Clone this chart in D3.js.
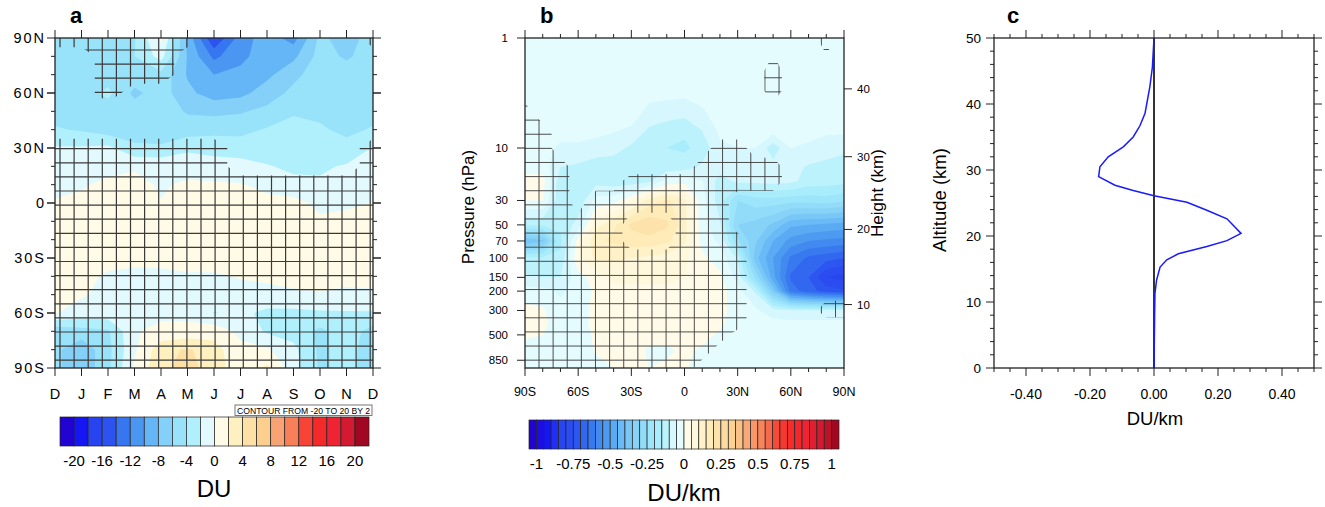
<!DOCTYPE html>
<html>
<head>
<meta charset="utf-8">
<script src="https://cdn.jsdelivr.net/npm/d3@7"></script>
<style>
  body { margin: 0; background: #fff; }
  svg { font-family: "Liberation Sans", Arial, sans-serif; }
</style>
</head>
<body>
<svg id="fig" width="1325" height="507"></svg>
<script>
// ---------- panel a : zonal mean column ozone change (month x latitude) ----------
const months = ['D', 'J', 'F', 'M', 'A', 'M', 'J', 'J', 'A', 'S', 'O', 'N', 'D']
const latsA = [90, 80, 70, 60, 50, 40, 30, 20, 10, 0, -10, -20, -30, -40, -50, -60, -70, -80, -90]
const latTicksA = [90, 60, 30, 0, -30, -60, -90]
const latLabelsA = ['90N', '60N', '30N', '0', '30S', '60S', '90S']
// rows = latsA, columns = months
const ozoneA = [
  [-5, -5, -5, -4.2, 0.5, -8.5, -16, -11, -9, -10.8, -5.5, -7, -5],
  [-5, -5, -5, -4, -1.2, -8.2, -12.5, -10.5, -9, -8.5, -5.2, -6.3, -5],
  [-5, -5, -5, -4.8, -4.6, -8.2, -10, -9.5, -8.5, -6.5, -5, -5, -5],
  [-5, -5, -3.5, -6.5, -5, -7.5, -9, -8.6, -7, -5.5, -5, -5, -5],
  [-4.8, -5, -5, -5, -5, -6.2, -6.5, -6.2, -5.5, -4.2, -4.5, -5, -4.7],
  [-3.8, -4.2, -5, -5, -4.8, -5, -4.6, -4.6, -3.8, -3.4, -3.7, -4.5, -3.8],
  [-1.8, -1.8, -1.5, -3.6, -3.8, -2.4, -2.8, -3, -2.8, -2.8, -2.8, -3.3, -1.9],
  [-1, -0.8, -0.6, -0.2, -0.3, -0.8, -1, -1.2, -1.9, -2.3, -2.3, -1.8, -1],
  [-0.4, -0.2, 0.4, 0.5, -0.2, 0.3, 0.2, 0.1, -0.4, -1.6, -1.7, -0.9, -0.4],
  [0.1, 0.5, 0.8, 0.8, 0.05, 0.8, 0.8, 0.6, 0.4, 0.8, -0.6, -0.3, 0.05],
  [0.5, 0.8, 0.9, 1, 0.8, 1, 1, 0.8, 0.8, 0.8, 0.4, 0.5, 0.5],
  [0.6, 0.8, 0.8, 1, 1, 1, 1, 0.8, 0.8, 0.8, 0.8, 0.7, 0.6],
  [0.6, 0.7, 0.5, 0.4, 0.5, 0.7, 0.7, 0.6, 0.6, 0.6, 0.8, 0.7, 0.6],
  [0.5, 0.4, -0.2, -0.4, -0.4, -0.2, -0.2, 0.1, 0.3, 0.6, 1, 0.4, 0.4],
  [0.3, 0.2, -0.5, -0.6, -0.6, -0.5, -0.6, -0.5, -0.5, -0.3, -0.2, -0.3, -0.2],
  [0.1, -0.8, -0.8, -0.6, -0.5, -0.5, -2.1, -1.5, -2.5, -2.5, -2.3, -2.2, -2.2],
  [-5.5, -4.8, -4.3, -0.2, 0.6, 0.6, 1.2, -0.5, -2.3, -2.8, -4.5, -3, -4.8],
  [-5.5, -7.5, -4.6, -0.3, 3.2, 4.3, 2.8, 0.5, 0.3, -1.5, -4.4, -3.3, -5],
  [-5.5, -7.5, -4.5, 0.3, 3.5, 4.8, 3, 0.8, 2.4, -1.2, -4.3, -3.5, -5]
]
// 1 = significant (hatched)
const sigA = [
  [1, 1, 1, 1, 1, 1, 0, 0, 0, 0, 0, 0, 1],
  [0, 0, 1, 1, 1, 0, 0, 0, 0, 0, 0, 0, 0],
  [0, 0, 1, 1, 1, 0, 0, 0, 0, 0, 0, 0, 0],
  [0, 0, 1, 0, 0, 0, 0, 0, 0, 0, 0, 0, 0],
  [0, 0, 0, 0, 0, 0, 0, 0, 0, 0, 0, 0, 0],
  [0, 0, 0, 0, 0, 0, 0, 0, 0, 0, 0, 0, 0],
  [1, 1, 1, 1, 1, 1, 1, 0, 0, 0, 0, 0, 1],
  [1, 1, 1, 1, 1, 1, 1, 0, 0, 0, 0, 0, 1],
  [1, 1, 1, 1, 1, 1, 1, 1, 1, 1, 1, 1, 1],
  [1, 1, 1, 1, 1, 1, 1, 1, 1, 1, 1, 1, 1],
  [1, 1, 1, 1, 1, 1, 1, 1, 1, 1, 1, 1, 1],
  [1, 1, 1, 1, 1, 1, 1, 1, 1, 1, 1, 1, 1],
  [1, 1, 1, 1, 1, 1, 1, 1, 1, 1, 1, 1, 1],
  [1, 1, 1, 1, 1, 1, 1, 1, 1, 1, 1, 1, 1],
  [1, 1, 1, 1, 1, 1, 1, 1, 1, 1, 1, 1, 1],
  [1, 1, 1, 1, 1, 1, 1, 1, 1, 1, 1, 1, 1],
  [1, 1, 1, 1, 1, 1, 1, 1, 1, 1, 1, 1, 1],
  [1, 1, 1, 1, 1, 1, 1, 1, 1, 1, 1, 1, 1],
  [1, 1, 1, 1, 1, 1, 1, 1, 1, 1, 1, 1, 1]
]
const levelsA = [-20, -18, -16, -14, -12, -10, -8, -6, -4, -2, 0, 2, 4, 6, 8, 10, 12, 14, 16, 18, 20]
const barLabelsA = [-20, -16, -12, -8, -4, 0, 4, 8, 12, 16, 20]
const boxColorsA = ['#2204d2', '#1616f2', '#2844f0', '#2c52f0', '#3676f0', '#4a96f0', '#64b6f6', '#84d0f8',
  '#98e2fa', '#b0f0fc', '#e2fafe', '#fffbe6', '#fff0c0', '#fde0a6', '#fccf8e', '#f9a274', '#f88058',
  '#f64436', '#f42a2a', '#ee2434', '#d41a30', '#a00822']

// ---------- panel b : zonal mean ozone change (latitude x pressure) ----------
const latsB = [-90, -80, -70, -60, -50, -40, -30, -20, -10, 0, 10, 20, 30, 40, 50, 60, 70, 80, 90]
const presB = [1, 2, 3, 5, 7, 10, 15, 20, 30, 50, 70, 100, 150, 200, 300, 400, 500, 700, 1000]
// rows = presB, columns = latsB
const ozoneB = [
  [-.03, -.03, -.03, -.03, -.03, -.03, -.03, -.03, -.03, -.03, -.03, -.03, -.03, -.03, -.03, -.03, -.03, -.03, -.03],
  [-.03, -.03, -.03, -.03, -.03, -.03, -.03, -.03, -.03, -.03, -.03, -.03, -.03, -.03, -.03, -.03, -.03, -.03, -.03],
  [-.03, -.03, -.03, -.03, -.03, -.03, -.03, -.03, -.03, -.03, -.03, -.03, -.03, -.03, -.03, -.03, -.03, -.03, -.03],
  [-.03, -.03, -.03, -.03, -.03, -.03, -.03, -.07, -.08, -.09, -.06, -.03, -.03, -.03, -.03, -.03, -.03, -.03, -.03],
  [-.03, -.03, -.03, -.03, -.03, -.047, -.06, -.11, -.13, -.14, -.1, -.04, -.03, -.03, -.03, -.03, -.03, -.04, -.04],
  [-.03, -.03, -.06, -.06, -.08, -.08, -.11, -.14, -.15, -.16, -.13, -.06, -.05, -.05, -.13, -.05, -.06, -.08, -.09],
  [-.02, -.02, -.1, -.11, -.12, -.13, -.14, -.14, -.13, -.12, -.09, -.08, -.067, -.067, -.08, -.08, -.107, -.113, -.12],
  [.02, .02, -.13, -.14, -.12, -.13, -.13, -.11, -.03, -.02, -.047, -.12, -.087, -.087, -.08, -.087, -.12, -.127, -.133],
  [0, 0, -.14, -.14, -.03, -.02, .04, .12, .16, .11, -.03, -.127, -.25, -.22, -.22, -.23, -.23, -.22, -.24],
  [-.14, -.14, -.14, -.08, .08, .14, .21, .24, .21, .12, -.03, -.093, -.3, -.32, -.36, -.44, -.45, -.46, -.47],
  [-.4, -.36, -.16, .02, .14, .16, .18, .18, .16, .11, -.02, -.06, -.24, -.34, -.45, -.52, -.55, -.56, -.57],
  [-.14, -.14, -.14, .04, .11, .11, .1, .09, .08, .06, .01, -.02, -.107, -.38, -.5, -.61, -.66, -.68, -.7],
  [-.09, -.1, -.1, -.02, .02, .06, .06, .06, .06, .05, .02, .01, -.067, -.26, -.48, -.66, -.7, -.8, -.82],
  [-.03, -.03, -.06, -.03, .01, .04, .04, .04, .04, .04, .03, .02, -.03, -.107, -.36, -.62, -.68, -.72, -.74],
  [.02, .006, -.03, -.03, .02, .03, .04, .04, .04, .04, .03, .02, -.03, -.04, -.08, -.095, -.095, -.095, -.095],
  [.03, .012, -.03, -.03, .02, .03, .04, .04, .04, .04, .03, .01, -.03, -.03, -.03, -.03, -.03, -.03, -.03],
  [.01, 0, -.03, -.03, .01, .03, .04, .02, .02, .03, .02, -.01, -.03, -.03, -.03, -.03, -.03, -.03, -.03],
  [-.03, -.03, -.03, -.03, .005, .02, .03, -.01, -.01, .01, -.01, -.03, -.03, -.03, -.03, -.03, -.03, -.03, -.03],
  [-.03, -.03, -.03, -.03, -.02, 0, .01, 0, .01, .006, -.02, -.03, -.03, -.03, -.03, -.03, -.03, -.03, -.03]
]
const sigB = [
  [0, 0, 0, 0, 0, 0, 0, 0, 0, 0, 0, 0, 0, 0, 0, 0, 0, 1, 0],
  [0, 0, 0, 0, 0, 0, 0, 0, 0, 0, 0, 0, 0, 0, 1, 0, 0, 0, 0],
  [0, 0, 0, 0, 0, 0, 0, 0, 0, 0, 0, 0, 0, 0, 1, 0, 0, 0, 0],
  [1, 0, 0, 0, 0, 0, 0, 0, 0, 0, 0, 0, 0, 0, 0, 0, 0, 0, 0],
  [1, 1, 0, 0, 0, 0, 0, 0, 0, 0, 0, 0, 0, 0, 0, 0, 0, 0, 0],
  [1, 1, 0, 0, 0, 0, 0, 0, 0, 0, 0, 1, 1, 0, 0, 0, 0, 0, 0],
  [1, 1, 1, 0, 0, 0, 0, 0, 0, 0, 1, 1, 1, 1, 1, 0, 0, 0, 0],
  [1, 1, 1, 0, 0, 0, 1, 1, 1, 1, 1, 1, 1, 1, 1, 0, 0, 0, 0],
  [1, 1, 1, 0, 1, 1, 1, 1, 1, 1, 1, 1, 0, 0, 0, 0, 0, 0, 0],
  [1, 1, 1, 1, 1, 1, 0, 0, 0, 1, 1, 1, 0, 0, 0, 0, 0, 0, 0],
  [1, 1, 1, 1, 1, 1, 0, 0, 0, 1, 1, 1, 1, 0, 0, 0, 0, 0, 0],
  [1, 1, 1, 1, 1, 1, 1, 1, 1, 1, 1, 1, 1, 0, 0, 0, 0, 0, 0],
  [1, 1, 1, 1, 1, 1, 1, 1, 1, 1, 1, 1, 1, 0, 0, 0, 0, 0, 0],
  [1, 1, 1, 1, 1, 1, 1, 1, 1, 1, 1, 1, 1, 0, 0, 0, 0, 0, 0],
  [1, 1, 1, 1, 1, 1, 1, 1, 1, 1, 1, 1, 1, 0, 0, 0, 0, 1, 1],
  [1, 1, 1, 1, 1, 1, 1, 1, 1, 1, 1, 1, 1, 0, 0, 0, 0, 0, 0],
  [1, 1, 1, 1, 1, 1, 1, 1, 1, 1, 1, 1, 0, 0, 0, 0, 0, 0, 0],
  [1, 1, 1, 1, 1, 1, 1, 1, 1, 1, 1, 0, 0, 0, 0, 0, 0, 0, 0],
  [1, 1, 1, 1, 1, 1, 1, 1, 1, 1, 0, 0, 0, 0, 0, 0, 0, 0, 0]
]
const levelsB = d3.range(41).map(i => Math.round((-1 + i * 0.05) * 100) / 100)
const barLabelsB = [-1, -0.75, -0.5, -0.25, 0, 0.25, 0.5, 0.75, 1]
const presTicks = [1, 10, 30, 50, 70, 100, 150, 200, 300, 500, 850]
const heightTicks = [10, 20, 30, 40]
const heightTickPres = [265, 55, 12, 2.9]
const latTicksB = [-90, -60, -30, 0, 30, 60, 90]
const latLabelsB = ['90S', '60S', '30S', '0', '30N', '60N', '90N']

// ---------- panel c : global mean profile ----------
const altC = [0, 4, 8.3, 11.3, 13.3, 15.3, 16.4, 17.3, 18.4, 19.3, 20.4, 22.6, 23.9, 25.1, 26.1, 26.9, 27.7, 29, 30.5, 32, 33.5, 35, 36.7, 38.6, 42.6, 45.6, 50]
const duC = [0, 0.001, 0.002, 0.003, 0.008, 0.019, 0.04, 0.076, 0.165, 0.228, 0.272, 0.228, 0.165, 0.103, 0, -0.065, -0.122, -0.173, -0.169, -0.143, -0.096, -0.065, -0.044, -0.028, -0.013, -0.005, 0]
const xTicksC = [-0.4, -0.2, 0, 0.2, 0.4]
const yTicksC = [0, 10, 20, 30, 40, 50]

// -------------------------------------------------------------------------
const svg = d3.select('#fig')
const ink = '#222'

// the same colormap, sampled again for the 42 boxes of panel b
const anchorPos = []
const anchorCol = []
boxColorsA.forEach((c, i) => {
  if (i === 11) {
    anchorPos.push(0.49, 0.51)
    anchorCol.push('#e6fcff', '#fffbe8')
  }
  anchorPos.push(i / 21); anchorCol.push(c)
})
const cmap = d3.scaleLinear().domain(anchorPos).range(anchorCol).interpolate(d3.interpolateRgb)
const boxColorsB = d3.range(42).map(k => cmap(k / 41))

function gridPath (toX, toY) {
  // d3.contours puts grid value i at coordinate i + 0.5
  return d3.geoPath(d3.geoTransform({
    point (x, y) { this.stream.point(toX(x - 0.5), toY(y - 0.5)) }
  }))
}

function filledContours (g, grid, levels, colors, path, box) {
  const ny = grid.length
  const nx = grid[0].length
  g.append('rect').attr('x', box.x0).attr('y', box.y0)
    .attr('width', box.x1 - box.x0).attr('height', box.y1 - box.y0)
    .attr('fill', colors[0])
  const cs = d3.contours().size([nx, ny]).thresholds(levels)(grid.flat())
  g.selectAll('path.fill').data(cs).join('path')
    .attr('class', 'fill')
    .attr('d', path)
    .attr('fill', (d, i) => colors[i + 1])
}

function hatch (g, mask, path, id, box, x0, y0, step, stroke, width) {
  const ny = mask.length
  const nx = mask[0].length
  const region = d3.contours().size([nx, ny]).thresholds([0.5])(mask.flat())[0]
  svg.append('clipPath').attr('id', id).append('path').attr('d', path(region))
  const h = g.append('g').attr('clip-path', `url(#${id})`)
    .attr('stroke', stroke).attr('stroke-width', width)
  for (let x = x0; x < box.x1; x += step) {
    h.append('line').attr('x1', x).attr('x2', x).attr('y1', box.y0).attr('y2', box.y1)
  }
  for (let y = y0; y < box.y1; y += step) {
    h.append('line').attr('x1', box.x0).attr('x2', box.x1).attr('y1', y).attr('y2', y)
  }
}

function tick (g, x1, y1, x2, y2, w) {
  g.append('line').attr('x1', x1).attr('y1', y1).attr('x2', x2).attr('y2', y2)
    .attr('stroke', ink).attr('stroke-width', w || 1)
}

function frame (g, box) {
  g.append('rect').attr('x', box.x0).attr('y', box.y0)
    .attr('width', box.x1 - box.x0).attr('height', box.y1 - box.y0)
    .attr('fill', 'none').attr('stroke', ink).attr('stroke-width', 1.3)
}

function colorbar (g, colors, x0, x1, y0, y1, levels, labels, fmt, fontSize) {
  const w = (x1 - x0) / colors.length
  g.selectAll('rect.cb').data(colors).join('rect')
    .attr('class', 'cb')
    .attr('x', (d, i) => x0 + i * w).attr('y', y0)
    .attr('width', w).attr('height', y1 - y0)
    .attr('fill', d => d).attr('stroke', '#222').attr('stroke-width', 0.7)
  labels.forEach(v => {
    const k = levels.findIndex(l => Math.abs(l - v) < 1e-9) + 1
    g.append('text').attr('x', x0 + k * w).attr('y', y1 + 20)
      .attr('text-anchor', 'middle').attr('font-size', fontSize).text(fmt(v))
  })
}

// ======================= panel a =======================
{
  const box = { x0: 55, x1: 373, y0: 38, y1: 368 }
  const x = d3.scaleLinear([0, 12], [box.x0, box.x1])
  const y = d3.scaleLinear([90, -90], [box.y0, box.y1])
  const path = gridPath(i => x(i), j => y(90 - 10 * j))
  svg.append('clipPath').attr('id', 'clipA').append('rect')
    .attr('x', box.x0).attr('y', box.y0).attr('width', box.x1 - box.x0).attr('height', box.y1 - box.y0)
  const g = svg.append('g')
  const plot = g.append('g').attr('clip-path', 'url(#clipA)')
  filledContours(plot, ozoneA, levelsA, boxColorsA, path, box)
  hatch(plot, sigA, path, 'hatchA', box, 60, 50, 14.1, '#3a3a3a', 1.2)
  frame(g, box)

  months.forEach((m, i) => {
    tick(g, x(i), box.y0, x(i), box.y0 - 8)
    tick(g, x(i), box.y1, x(i), box.y1 + 8)
    g.append('text').attr('x', x(i)).attr('y', 399).attr('text-anchor', 'middle')
      .attr('font-size', 14.5).text(m)
  })
  d3.range(-80, 90, 10).forEach(v => {
    const len = latTicksA.includes(v) ? 8 : 4
    tick(g, box.x0, y(v), box.x0 - len, y(v))
    tick(g, box.x1, y(v), box.x1 + len, y(v))
  })
  latTicksA.forEach((v, i) => {
    tick(g, box.x0, y(v), box.x0 - 8, y(v))
    tick(g, box.x1, y(v), box.x1 + 8, y(v))
    g.append('text').attr('x', 46).attr('y', y(v) + 5).attr('text-anchor', 'end')
      .attr('font-size', 14.5).attr('letter-spacing', 2).text(latLabelsA[i])
  })
  g.append('text').attr('x', 70).attr('y', 23).attr('font-size', 22)
    .attr('font-weight', 'bold').text('a')

  colorbar(g, boxColorsA, 60, 369, 417, 446, levelsA, barLabelsA, d => d, 15)
  g.append('text').attr('x', 214).attr('y', 497).attr('text-anchor', 'middle')
    .attr('font-size', 24).text('DU')
  g.append('rect').attr('x', 235).attr('y', 405).attr('width', 137).attr('height', 10.5)
    .attr('fill', '#fff').attr('stroke', '#555').attr('stroke-width', 0.8)
  g.append('text').attr('x', 237).attr('y', 413.5).attr('font-size', 8.4)
    .attr('textLength', 133).attr('lengthAdjust', 'spacingAndGlyphs')
    .text('CONTOUR FROM -20 TO 20 BY 2')
}

// ======================= panel b =======================
{
  const box = { x0: 525, x1: 844, y0: 38, y1: 368 }
  const x = d3.scaleLinear([-90, 90], [box.x0, box.x1])
  const y = d3.scaleLog([1, 1000], [box.y0, box.y1])
  const rowToLogP = d3.scaleLinear(d3.range(presB.length), presB.map(Math.log10))
  const path = gridPath(i => x(-90 + 10 * i), j => y(Math.pow(10, rowToLogP(j))))
  svg.append('clipPath').attr('id', 'clipB').append('rect')
    .attr('x', box.x0).attr('y', box.y0).attr('width', box.x1 - box.x0).attr('height', box.y1 - box.y0)
  const g = svg.append('g')
  const plot = g.append('g').attr('clip-path', 'url(#clipB)')
  filledContours(plot, ozoneB, levelsB, boxColorsB, path, box)
  hatch(plot, sigB, path, 'hatchB', box, 539, 35.4, 14.12, '#3a3a3a', 0.9)
  frame(g, box)

  d3.range(-90, 91, 10).forEach(v => {
    const len = latTicksB.includes(v) ? 8 : 4
    tick(g, x(v), box.y0, x(v), box.y0 - len)
    tick(g, x(v), box.y1, x(v), box.y1 + len)
  })
  latTicksB.forEach((v, i) => {
    g.append('text').attr('x', x(v)).attr('y', 396).attr('text-anchor', 'middle')
      .attr('font-size', 12.5).text(latLabelsB[i])
  })
  presTicks.forEach(p => {
    tick(g, box.x0, y(p), box.x0 - 8, y(p))
    g.append('text').attr('x', 508).attr('y', y(p) + 4).attr('text-anchor', 'end')
      .attr('font-size', 11.5).text(p)
  })
  heightTicks.forEach((h, i) => {
    const yy = y(heightTickPres[i])
    tick(g, box.x1, yy, box.x1 + 8, yy)
    g.append('text').attr('x', 857).attr('y', yy + 4).attr('font-size', 11.5).text(h)
  })
  g.append('text').attr('transform', 'translate(474,207) rotate(-90)')
    .attr('text-anchor', 'middle').attr('font-size', 17).text('Pressure (hPa)')
  g.append('text').attr('transform', 'translate(883,193) rotate(-90)')
    .attr('text-anchor', 'middle').attr('font-size', 17).text('Height (km)')
  g.append('text').attr('x', 540).attr('y', 23).attr('font-size', 22)
    .attr('font-weight', 'bold').text('b')

  colorbar(g, boxColorsB, 529, 839, 420, 449, levelsB, barLabelsB, d => String(d), 15)
  g.append('text').attr('x', 684).attr('y', 501).attr('text-anchor', 'middle')
    .attr('font-size', 24).text('DU/km')
}

// ======================= panel c =======================
{
  const box = { x0: 994, x1: 1314, y0: 38, y1: 368 }
  const x = d3.scaleLinear([-0.5, 0.5], [box.x0, box.x1])
  const y = d3.scaleLinear([0, 50], [box.y1, box.y0])
  const g = svg.append('g')

  g.append('line').attr('x1', x(0)).attr('x2', x(0)).attr('y1', box.y0).attr('y2', box.y1)
    .attr('stroke', '#000').attr('stroke-width', 1.6)
  const line = d3.line().x((d, i) => x(duC[i])).y(d => y(d))
  g.append('path').attr('d', line(altC)).attr('fill', 'none')
    .attr('stroke', '#1a1aff').attr('stroke-width', 1.5)
  frame(g, box)

  d3.range(-10, 11).forEach(k => {
    const v = k * 0.05
    const major = k % 4 === 0 && Math.abs(k) <= 8
    const len = major ? 8 : 4
    tick(g, x(v), box.y0, x(v), box.y0 - len)
    tick(g, x(v), box.y1, x(v), box.y1 + len)
  })
  xTicksC.forEach(v => {
    g.append('text').attr('x', x(v)).attr('y', 399).attr('text-anchor', 'middle')
      .attr('font-size', 14).text(v.toFixed(2))
  })
  d3.range(0, 51, 2).forEach(v => {
    const len = v % 10 === 0 ? 8 : 4
    tick(g, box.x0, y(v), box.x0 - len, y(v))
    tick(g, box.x1, y(v), box.x1 + len, y(v))
  })
  yTicksC.forEach(v => {
    g.append('text').attr('x', 981).attr('y', y(v) + 5).attr('text-anchor', 'end')
      .attr('font-size', 13.5).text(v)
  })
  g.append('text').attr('transform', 'translate(946,200) rotate(-90)')
    .attr('text-anchor', 'middle').attr('font-size', 18.5).text('Altitude (km)')
  g.append('text').attr('x', 1155).attr('y', 425).attr('text-anchor', 'middle')
    .attr('font-size', 18.5).text('DU/km')
  g.append('text').attr('x', 1007).attr('y', 23).attr('font-size', 22)
    .attr('font-weight', 'bold').text('c')
}
</script>
</body>
</html>
